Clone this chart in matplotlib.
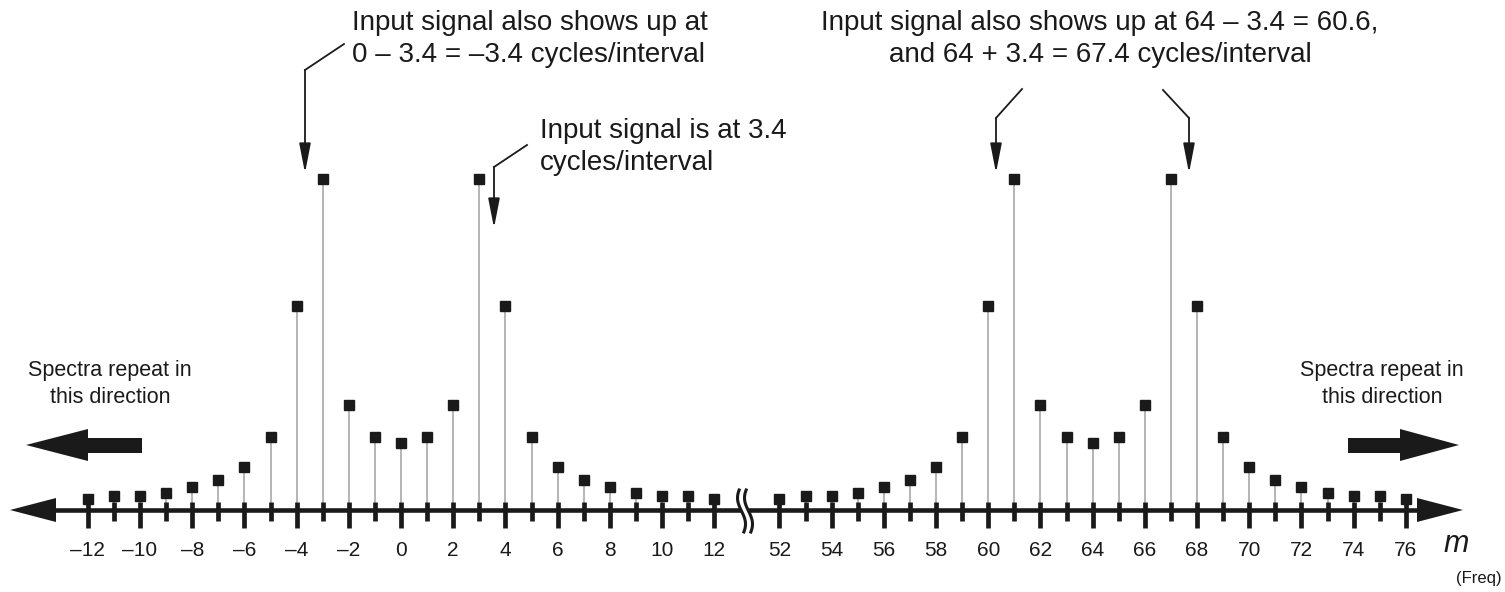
import numpy as np
import matplotlib
matplotlib.use('Agg')
import matplotlib.pyplot as plt
from matplotlib.patches import Polygon

# data: DFT magnitudes (arbitrary units)
m_left = list(range(-12, 13))
mag_left = [1.1, 1.4, 1.4, 1.7, 2.3, 3.0, 4.3, 7.3, 20.4, 33.1, 10.5, 7.3, 6.7,
            7.3, 10.5, 33.1, 20.4, 7.3, 4.3, 3.0, 2.3, 1.7, 1.4, 1.4, 1.1]
m_right = list(range(52, 77))
mag_right = [1.1, 1.4, 1.4, 1.7, 2.3, 3.0, 4.3, 7.3, 20.4, 33.1, 10.5, 7.3, 6.7,
             7.3, 10.5, 33.1, 20.4, 7.3, 4.3, 3.0, 2.3, 1.7, 1.4, 1.4, 1.1]
tick_left = [-12, -10, -8, -6, -4, -2, 0, 2, 4, 6, 8, 10, 12]
tick_right = [52, 54, 56, 58, 60, 62, 64, 66, 68, 70, 72, 74, 76]

# the right block is drawn right after the left one, with a small gap (axis break)
GAP = 2.5
shift = m_right[0] - m_left[-1] - GAP

# layout: 26.1 px per bin, 10 px per unit, axis line at 510 px from top
X0, DX, Y0, DY = 401, 26.1, 510, 10.0


def px(x, y):
    return (x - X0) / DX, (Y0 - y) / DY


fig = plt.figure(figsize=(15.05, 5.92), dpi=100)
ax = fig.add_axes([0, 0, 1, 1])
ax.set_xlim(px(0, 0)[0], px(1505, 0)[0])
ax.set_ylim(px(0, 592)[1], px(0, 0)[1])
ax.axis('off')

ink = '#1a1a1a'
stem_col = '#a8a8a8'
font = ['Liberation Sans', 'DejaVu Sans']

pos_left = np.array(m_left, dtype=float)
pos_right = np.array(m_right, dtype=float) - shift

# axis line with arrow heads
xa, _ = px(52, 0)
xb, _ = px(1420, 0)
ax.plot([xa, xb], [0, 0], color=ink, lw=3.3, solid_capstyle='butt', zorder=2)
for tip, base in [(10, 56), (1463, 1417)]:
    t = px(tip, 510)
    b1 = px(base, 498)
    b2 = px(base, 522)
    ax.add_patch(Polygon([t, b1, b2], closed=True, color=ink, lw=0, zorder=3))

# ticks
for pos, mm in list(zip(pos_left, m_left)) + list(zip(pos_right, m_right)):
    low = 1.8 if mm % 2 == 0 else 1.1
    ax.plot([pos, pos], [0.8, -low], color=ink, lw=3.4, solid_capstyle='butt', zorder=2)

# axis break
t = np.linspace(-1, 1, 60)
for off in (-3.5, 3.5):
    cx = (745 + off + 4 * np.sin(np.pi * t * 0.8) - X0) / DX
    cy = (Y0 - (511 + 21 * t)) / DY
    ax.plot(cx, cy, color=ink, lw=2.2, zorder=4)
ax.add_patch(Polygon([px(741, 504), px(749, 504), px(749, 516), px(741, 516)],
                     closed=True, color='white', lw=0, zorder=3))

# stems and markers
for pos, mag in [(pos_left, mag_left), (pos_right, mag_right)]:
    ax.vlines(pos, 0, mag, color=stem_col, lw=1.2, zorder=1)
    ax.plot(pos, mag, 's', color=ink, ms=7.8, mec=ink, zorder=5)

# tick labels
for mm in tick_left:
    ax.text(mm, px(0, 551)[1], str(mm).replace('-', '\u2013'), ha='center', va='center',
            fontsize=15, family=font, color=ink)
for mm in tick_right:
    ax.text(mm - shift, px(0, 551)[1], str(mm), ha='center', va='center',
            fontsize=15, family=font, color=ink)
ax.text(*px(1456, 544), 'm', ha='center', va='center', fontsize=22,
        style='italic', family=font, color=ink)
ax.text(*px(1479, 578), '(Freq)', ha='center', va='center', fontsize=12,
        family=font, color=ink)

# "spectra repeat" notes and fat arrows
for cx_txt, tail, base, tip in [(110, 142, 88, 26), (1382, 1348, 1400, 1459)]:
    ax.text(*px(cx_txt, 384), 'Spectra repeat in\nthis direction', ha='center',
            va='center', fontsize=15.5, family=font, color=ink, linespacing=1.4)
    ax.add_patch(Polygon([px(tail, 438), px(base, 438), px(base, 429), px(tip, 445),
                          px(base, 461), px(base, 453), px(tail, 453)],
                         closed=True, color=ink, lw=0, zorder=3))

# call-outs
notes = [
    ((352, 39), 'left', 'Input signal also shows up at\n0 \u2013 3.4 = \u20133.4 cycles/interval',
     [(344, 44), (305, 70)], (305, 173)),
    ((540, 147), 'left', 'Input signal is at 3.4\ncycles/interval',
     [(527, 145), (494, 167)], (494, 228)),
    ((1100, 39), 'center', 'Input signal also shows up at 64 \u2013 3.4 = 60.6,\nand 64 + 3.4 = 67.4 cycles/interval',
     [(1022, 89), (996, 118)], (996, 173)),
    (None, None, None, [(1163, 90), (1189, 118)], (1189, 173)),
]
for txt_xy, ha, txt, diag, tip in notes:
    if txt is not None:
        ax.text(*px(*txt_xy), txt, ha=ha, va='center', multialignment='center' if ha == 'center' else 'left',
                fontsize=20, family=font, color=ink, linespacing=1.32)
    d = [px(*p) for p in diag]
    ax.plot([d[0][0], d[1][0]], [d[0][1], d[1][1]], color=ink, lw=1.3)
    ax.annotate('', xy=px(*tip), xytext=d[1],
                arrowprops=dict(arrowstyle='-|>,head_width=0.35,head_length=1.8', color=ink,
                                lw=1.3, shrinkA=0, shrinkB=0))

plt.savefig('out.png', dpi=100)
